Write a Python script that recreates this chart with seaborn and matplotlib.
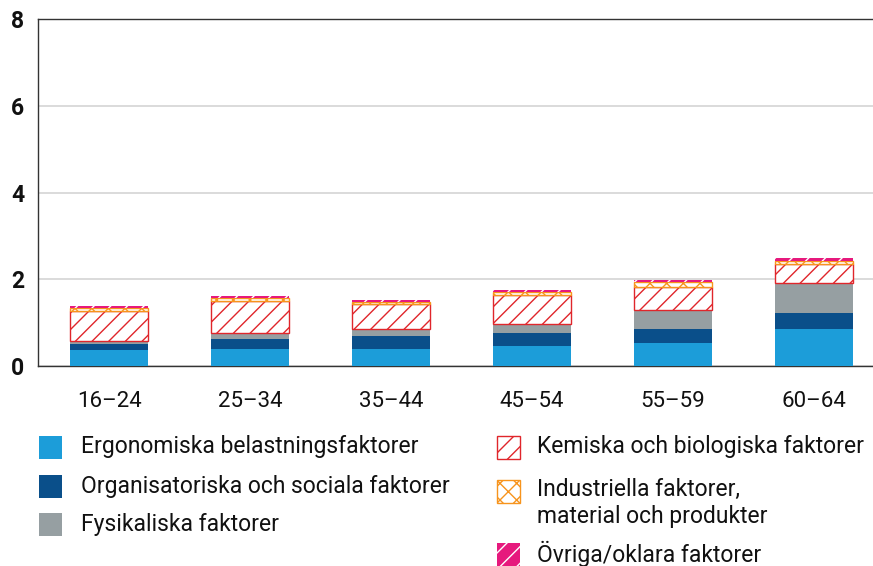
import numpy as np
import pandas as pd
import matplotlib
matplotlib.use("Agg")
import matplotlib.pyplot as plt
import seaborn as sns
from matplotlib.patches import Rectangle

# Data
age_groups = ['16–24', '25–34', '35–44', '45–54', '55–59', '60–64']
ergonomiska = [0.37, 0.39, 0.39, 0.45, 0.54, 0.86]
organisatoriska = [0.14, 0.23, 0.30, 0.30, 0.32, 0.37]
fysikaliska = [0.07, 0.15, 0.16, 0.22, 0.44, 0.68]
kemiska = [0.69, 0.73, 0.57, 0.67, 0.51, 0.44]
industriella = [0.06, 0.06, 0.05, 0.06, 0.12, 0.08]
ovriga = [0.05, 0.05, 0.05, 0.05, 0.06, 0.06]

labels = ['Ergonomiska belastningsfaktorer',
          'Organisatoriska och sociala faktorer',
          'Fysikaliska faktorer',
          'Kemiska och biologiska faktorer',
          'Industriella faktorer,\nmaterial och produkter',
          'Övriga/oklara faktorer']

sns.set_style("white")
plt.rcParams['font.family'] = ['Roboto', 'DejaVu Sans']
plt.rcParams['hatch.linewidth'] = 1.0

# style per layer: facecolor, edgecolor, hatch
styles = [
    ('#1c9dd9', 'none', None),
    ('#0a4f8a', 'none', None),
    ('#969fa2', 'none', None),
    ('white', '#e0262b', '//'),
    ('white', '#f7941d', 'xx'),
    ('#e6197d', 'white', '//'),
]
series = [ergonomiska, organisatoriska, fysikaliska, kemiska, industriella, ovriga]

df = pd.DataFrame({'age': age_groups})

fig = plt.figure(figsize=(8.73, 5.66), dpi=100)
ax = fig.add_axes([38/873, 1 - 366/566, 835/873, 347/566])

bottom = np.zeros(len(age_groups))
for vals, (fc, ec, h) in zip(series, styles):
    df['val'] = vals
    lw = 1.0 if fc == 'white' else 0
    sns.barplot(data=df, x='age', y='val', bottom=bottom, color=fc,
                saturation=1, width=0.553, edgecolor=ec, linewidth=lw,
                hatch=h, ax=ax, zorder=3)
    bottom = bottom + np.array(vals)

ax.set_xlim(-0.504, 5.418)
ax.set_ylim(0, 8)
ax.set_yticks([0, 2, 4, 6, 8])
ax.set_xlabel('')
ax.set_ylabel('')
ax.grid(axis='y', color='#d4d4d4', linewidth=1.2, zorder=0)
ax.spines['right'].set_visible(False)
for s in ['left', 'bottom', 'top']:
    ax.spines[s].set_color('#333333')
    ax.spines[s].set_linewidth(1.0)
ax.tick_params(axis='both', length=0)
ax.tick_params(axis='x', labelsize=16, pad=18, colors='#111111')
ax.tick_params(axis='y', pad=10)
for t in ax.get_yticklabels():
    t.set_fontweight('bold')
    t.set_fontsize(16.5)
    t.set_color('#111111')

# legend drawn in figure pixels
W, H = 873, 566
left_rows = [(39, 447), (39, 486.5), (39, 524)]
right_rows = [(497, 447), (497, 491), (497, 554)]
positions = left_rows + right_rows
size = 23
for i, ((x, y), (fc, ec, h)) in enumerate(zip(positions, styles)):
    lw = 1.0 if fc == 'white' else 0
    rect = Rectangle((x / W, 1 - (y + size/2) / H), size / W, size / H,
                     transform=fig.transFigure, facecolor=fc, edgecolor=ec,
                     hatch=h, linewidth=lw)
    fig.add_artist(rect)
    tx = 81 if i < 3 else 537
    if i == 4:
        fig.text(tx / W, 1 - (y - 13) / H, labels[i], fontsize=16.5,
                 va='top', ha='left', color='#111111', linespacing=1.25)
    else:
        fig.text(tx / W, 1 - y / H, labels[i], fontsize=16.5,
                 va='center', ha='left', color='#111111')

fig.savefig('out.png', dpi=100)
